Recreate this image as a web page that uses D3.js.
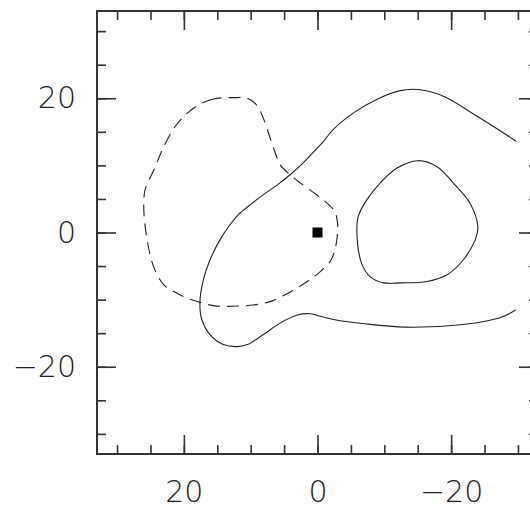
<!DOCTYPE html>
<html>
<head>
<meta charset="utf-8">
<script src="https://cdn.jsdelivr.net/npm/d3@7"></script>
<style>
  html, body { margin: 0; padding: 0; background: #fff; }
  svg text { font-family: "DejaVu Sans ExtraLight", "DejaVu Sans", sans-serif; font-weight: 200; }
</style>
</head>
<body>
<svg id="chart" width="530" height="510"></svg>
<script>
// ---- data (sky offsets, reversed x) ----
const xDomain = [33, -33];
const yDomain = [-33, 33];
const majorTicks = [-20, 0, 20];
const minorTicks = [-30, -25, -20, -15, -10, -5, 0, 5, 10, 15, 20, 25, 30];

// outer solid contour (open, clipped at data edge)
const outerSolid = [
  [-29.7, 13.6], [-27.1, 15.3], [-23.1, 17.8], [-19.1, 20.2], [-15.1, 21.3],
  [-12.2, 21.1], [-9.0, 19.9], [-5.5, 17.9], [-2.3, 15.3], [-1.0, 13.7],
  [0.5, 12.1], [2.1, 10.4], [4.1, 8.6], [6.0, 7.1], [8.3, 5.5], [10.1, 4.1],
  [11.8, 2.7], [13.2, 1.0], [14.6, -1.1], [16.1, -4.1], [17.1, -7.1], [17.6, -10.5],
  [17.3, -13.0], [16.1, -15.2], [14.1, -16.7], [12.0, -17.0], [10.5, -16.7],
  [8.1, -15.2], [5.6, -13.5], [3.0, -12.3], [1.1, -12.1], [-0.1, -12.4],
  [-2.6, -13.0], [-7.1, -13.6], [-13.1, -14.1], [-19.6, -13.9], [-24.7, -13.3],
  [-27.6, -12.6], [-29.7, -11.5]
];

// inner solid contour (closed)
const innerSolid = [
  [-15.0, 10.7], [-17.9, 9.8], [-20.3, 7.4], [-22.8, 4.4], [-24.0, 0.9],
  [-23.6, -1.1], [-21.8, -4.1], [-19.4, -6.3], [-16.4, -7.3], [-12.4, -7.5],
  [-9.9, -7.5], [-7.9, -6.6], [-6.6, -4.6], [-5.9, -0.1], [-6.1, 2.4],
  [-7.4, 4.9], [-9.4, 7.4], [-11.9, 9.6]
];

// dashed contour (closed)
const dashedContour = [
  [12.1, 20.1], [15.6, 19.9], [18.0, 18.9], [19.8, 17.5], [21.3, 15.8],
  [23.0, 12.8], [24.5, 9.3], [25.8, 6.4], [26.0, 4.4], [25.9, 1.9],
  [25.5, -1.1], [24.8, -4.3], [24.0, -6.3], [23.0, -7.8], [21.5, -8.8],
  [19.5, -9.8], [17.6, -10.4], [15.6, -10.9], [13.6, -11.0], [9.6, -10.8],
  [7.1, -10.3], [5.1, -9.4], [3.1, -8.3], [1.1, -7.0], [-0.1, -6.1],
  [-1.9, -4.3], [-2.6, -2.6], [-3.0, -0.1], [-3.0, 1.4], [-2.6, 3.1],
  [-1.4, 4.4], [0.1, 5.6], [2.6, 7.4], [4.1, 8.6], [5.6, 10.1],
  [6.3, 11.8], [7.1, 14.1], [8.1, 17.0], [8.9, 18.7], [9.9, 19.7],
  [11.0, 20.1]
];

// source position
const markers = [[0, 0]];

// ---- layout ----
const padL = 97, padR = 538, padT = 11, padB = 454;
const svg = d3.select("#chart");
const x = d3.scaleLinear().domain(xDomain).range([padL, padR]);
const y = d3.scaleLinear().domain(yDomain).range([padB, padT]);

const axisColor = "#333";
const lineColor = "#222";

// contours
const openLine = d3.line().x(d => x(d[0])).y(d => y(d[1])).curve(d3.curveCatmullRom.alpha(0.5));
const closedLine = d3.line().x(d => x(d[0])).y(d => y(d[1])).curve(d3.curveCatmullRomClosed.alpha(0.5));

svg.append("path").attr("d", openLine(outerSolid))
  .attr("fill", "none").attr("stroke", lineColor).attr("stroke-width", 1.1);
svg.append("path").attr("d", closedLine(innerSolid))
  .attr("fill", "none").attr("stroke", lineColor).attr("stroke-width", 1.1);
svg.append("path").attr("d", closedLine(dashedContour))
  .attr("fill", "none").attr("stroke", lineColor).attr("stroke-width", 1.1)
  .attr("stroke-dasharray", "12,7");

svg.selectAll("rect.marker").data(markers).enter().append("rect")
  .attr("class", "marker")
  .attr("x", d => x(d[0]) - 5).attr("y", d => y(d[1]) - 5)
  .attr("width", 10).attr("height", 10).attr("fill", "#000");

// axes
function styleAxis(g) {
  g.select(".domain").remove();
  g.selectAll(".tick line").attr("stroke", axisColor).attr("stroke-width", 1.6);
  g.selectAll(".tick text").attr("fill", "#222").style("font-size", "30px");
}

// minor ticks (no labels)
svg.append("g").attr("transform", `translate(0,${padB})`)
  .call(d3.axisBottom(x).tickValues(minorTicks).tickSize(-9).tickFormat(""))
  .call(styleAxis);
svg.append("g").attr("transform", `translate(0,${padT})`)
  .call(d3.axisTop(x).tickValues(minorTicks).tickSize(-9).tickFormat(""))
  .call(styleAxis);
svg.append("g").attr("transform", `translate(${padL},0)`)
  .call(d3.axisLeft(y).tickValues(minorTicks).tickSize(-9).tickFormat(""))
  .call(styleAxis);
svg.append("g").attr("transform", `translate(${padR},0)`)
  .call(d3.axisRight(y).tickValues(minorTicks).tickSize(-9).tickFormat(""))
  .call(styleAxis);

// major ticks
const fmt = d3.format("d");
const gb = svg.append("g").attr("transform", `translate(0,${padB})`)
  .call(d3.axisBottom(x).tickValues(majorTicks).tickSize(-19).tickPadding(27).tickFormat(fmt))
  .call(styleAxis);
gb.selectAll(".tick text").attr("dy", "0.71em");
svg.append("g").attr("transform", `translate(0,${padT})`)
  .call(d3.axisTop(x).tickValues(majorTicks).tickSize(-19).tickFormat(""))
  .call(styleAxis);
svg.append("g").attr("transform", `translate(${padL},0)`)
  .call(d3.axisLeft(y).tickValues(majorTicks).tickSize(-19).tickPadding(21).tickFormat(fmt))
  .call(styleAxis);
svg.append("g").attr("transform", `translate(${padR},0)`)
  .call(d3.axisRight(y).tickValues(majorTicks).tickSize(-19).tickFormat(""))
  .call(styleAxis);

// frame
svg.append("rect").attr("x", padL).attr("y", padT)
  .attr("width", padR - padL).attr("height", padB - padT)
  .attr("fill", "none").attr("stroke", axisColor).attr("stroke-width", 2);
</script>
</body>
</html>
